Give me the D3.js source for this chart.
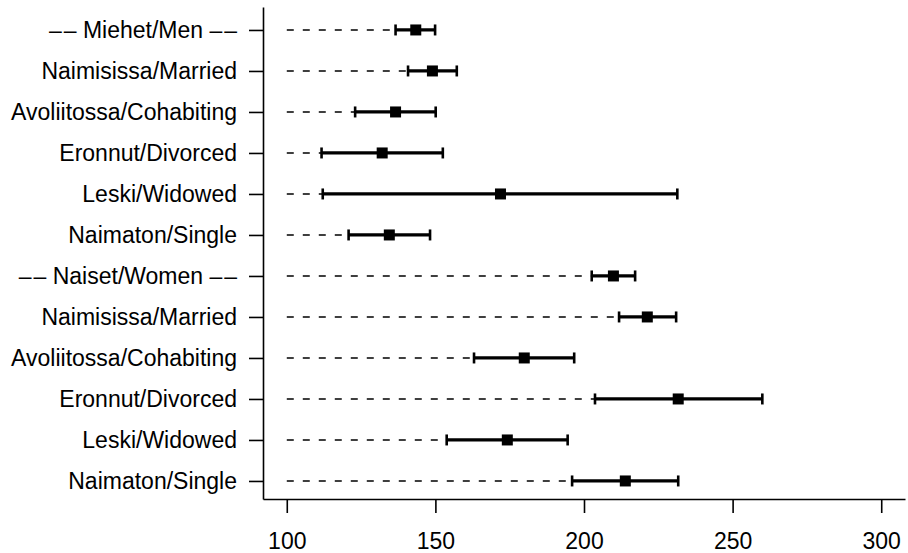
<!DOCTYPE html>
<meta charset="utf-8">
<style>
  body { margin: 0; background: #fff; }
  svg { font-family: "Liberation Sans", Arial, sans-serif; }
</style>
<svg width="908" height="553"></svg>
<script src="https://cdn.jsdelivr.net/npm/d3@7"></script>
<script>
// rows, top to bottom
var labels = [
  "\u2013\u200A\u2013 Miehet/Men \u2013\u200A\u2013",
  "Naimisissa/Married",
  "Avoliitossa/Cohabiting",
  "Eronnut/Divorced",
  "Leski/Widowed",
  "Naimaton/Single",
  "\u2013\u200A\u2013 Naiset/Women \u2013\u200A\u2013",
  "Naimisissa/Married",
  "Avoliitossa/Cohabiting",
  "Eronnut/Divorced",
  "Leski/Widowed",
  "Naimaton/Single"
];
var estimate = [143.4, 149.0, 136.6, 132.1, 171.9, 134.5, 209.9, 221.3, 179.9, 231.7, 174.2, 213.9];
var lower    = [136.6, 140.8, 123.0, 111.7, 112.1, 120.8, 202.6, 211.8, 163.0, 203.7, 153.8, 196.0];
var upper    = [149.9, 157.2, 150.1, 152.5, 231.4, 148.2, 217.2, 231.0, 196.7, 260.0, 194.5, 231.7];
var xTicks = [100, 150, 200, 250, 300];
var dashFrom = 100;

var data = labels.map(function(l, i) {
  return {i: i, label: l, est: estimate[i], lo: lower[i], hi: upper[i]};
});

var svg = d3.select("svg");

var x = d3.scaleLinear().domain([92, 308]).range([263, 905]);
var y = d3.scaleLinear().domain([-0.56, 11.44]).range([7, 499]);

// axes
var xAxis = svg.append("g")
  .attr("transform", "translate(0,499)")
  .call(d3.axisBottom(x).tickValues(xTicks).tickSize(14).tickSizeOuter(0).tickPadding(20));
var yAxis = svg.append("g")
  .attr("transform", "translate(263,0)")
  .call(d3.axisLeft(y).tickValues(d3.range(labels.length))
    .tickFormat(function(i) { return labels[i]; })
    .tickSize(14).tickSizeOuter(0).tickPadding(12));

[xAxis, yAxis].forEach(function(g) {
  g.selectAll("path, line").attr("stroke", "#000").attr("stroke-width", 1.6);
  g.selectAll("text").attr("fill", "#000").style("font-size", "23px");
});

// dashed guide from 100 to lower bound
svg.append("g").selectAll("line")
  .data(data).enter().append("line")
  .attr("x1", x(dashFrom))
  .attr("x2", function(d) { return x(d.lo); })
  .attr("y1", function(d) { return y(d.i); })
  .attr("y2", function(d) { return y(d.i); })
  .attr("stroke", "#000")
  .attr("stroke-width", 1.6)
  .attr("stroke-dasharray", "7,9");

// confidence intervals
var ci = svg.append("g").selectAll("g")
  .data(data).enter().append("g");

ci.append("line")
  .attr("x1", function(d) { return x(d.lo); })
  .attr("x2", function(d) { return x(d.hi); })
  .attr("y1", function(d) { return y(d.i); })
  .attr("y2", function(d) { return y(d.i); })
  .attr("stroke", "#000")
  .attr("stroke-width", 3.2);

ci.selectAll("line.cap")
  .data(function(d) { return [{v: d.lo, i: d.i}, {v: d.hi, i: d.i}]; })
  .enter().append("line")
  .attr("class", "cap")
  .attr("x1", function(d) { return x(d.v); })
  .attr("x2", function(d) { return x(d.v); })
  .attr("y1", function(d) { return y(d.i) - 5.5; })
  .attr("y2", function(d) { return y(d.i) + 5.5; })
  .attr("stroke", "#000")
  .attr("stroke-width", 2.6);

ci.append("rect")
  .attr("x", function(d) { return x(d.est) - 5.5; })
  .attr("y", function(d) { return y(d.i) - 5.5; })
  .attr("width", 11)
  .attr("height", 11)
  .attr("fill", "#000");
</script>
